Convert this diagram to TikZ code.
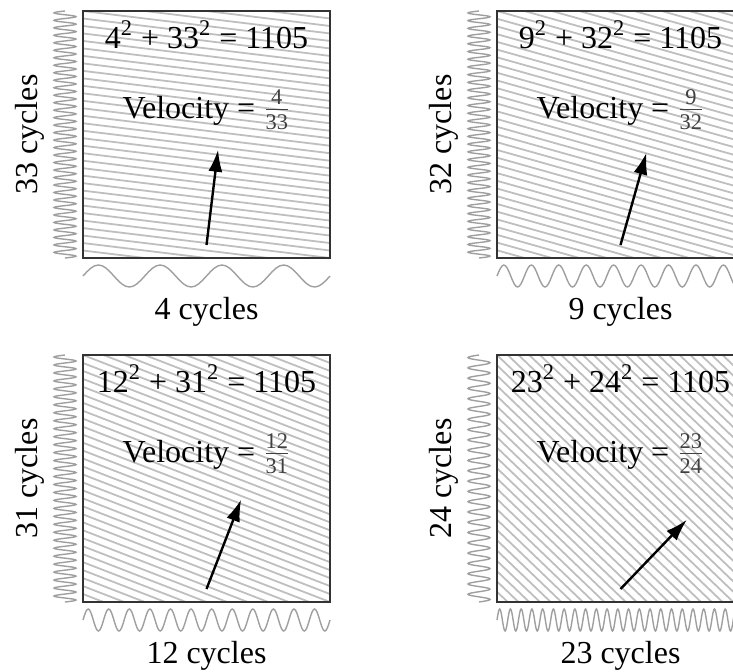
\documentclass[tikz,border=0pt]{standalone}
\usepackage{amsmath}
\usepackage{fontspec}
\setmainfont{Liberation Serif}
\usetikzlibrary{arrows.meta}

\newcommand{\boxside}{247}
% #1 name, #2 left, #3 top, #4 horizontal cycles, #5 vertical cycles
\newcommand{\cyclepanel}[5]{%
  \begin{scope}[shift={(#2,#3)}]
    \begin{scope}
      \clip (0,0) rectangle (\boxside,\boxside);
      \pgfmathtruncatemacro{\ksum}{#4+#5}
      \foreach \k in {1,...,\ksum}
        \draw[stripe] ({\k/#4*\boxside},\boxside) -- (0,{\boxside-\k/#5*\boxside});
    \end{scope}
    \draw[frame] (0,0) rectangle (\boxside,\boxside);
    \pgfmathtruncatemacro{\nh}{16*#4+1}
    \pgfmathtruncatemacro{\nv}{16*#5+1}
    \pgfmathsetmacro{\kh}{360/\boxside*#4}
    \pgfmathsetmacro{\kv}{360/\boxside*#5}
    \draw[wave] plot[domain=0:\boxside, samples=\nh]
      (\x,{\boxside+18-11*sin(\kh*\x)});
    \draw[wave] plot[domain=0:\boxside, samples=\nv]
      ({-18+11*sin(\kv*\x)},{\boxside-\x});
    \node[anchor=base] (#1-eq) at ({\boxside/2},37)
      {#4\textsuperscript{2} + #5\textsuperscript{2} = 1105};
    \node[anchor=base] (#1-vel) at ({\boxside/2},107)
      {Velocity = \textcolor{black!75}{$\frac{\text{#4}}{\text{#5}}$}};
    \node[anchor=base] (#1-xlab) at ({\boxside/2},{\boxside+61}) {#4 cycles};
    \node[anchor=base, rotate=90] (#1-ylab) at (-46,{\boxside/2}) {#5 cycles};
    \pgfmathsetmacro{\dxa}{96*#4/veclen(#4,#5)}
    \pgfmathsetmacro{\dya}{96*#5/veclen(#4,#5)}
    \coordinate (#1-tail) at ({\boxside/2},{\boxside-13});
    \coordinate (#1-tip) at ({\boxside/2+\dxa},{\boxside-13-\dya});
    \draw[velo] (#1-tail) -- (#1-tip);
  \end{scope}}

\begin{document}
\begin{tikzpicture}[x=0.5pt, y=-0.5pt,
  font=\fontsize{16}{19}\selectfont,
  stripe/.style={draw=gray!50, line width=0.9pt},
  frame/.style={draw=black!80, line width=1pt},
  wave/.style={draw=gray!75, line width=0.7pt},
  velo/.style={-{Latex[length=11pt,width=7pt]}, line width=1.2pt}]
  \useasboundingbox (0,0) rectangle (733,671);
  \clip (0,0) rectangle (733,671);

  \cyclepanel{ul}{83}{11}{4}{33}
  \cyclepanel{ur}{497}{11}{9}{32}
  \cyclepanel{ll}{83}{355}{12}{31}
  \cyclepanel{lr}{497}{355}{23}{24}
\end{tikzpicture}
\end{document}
